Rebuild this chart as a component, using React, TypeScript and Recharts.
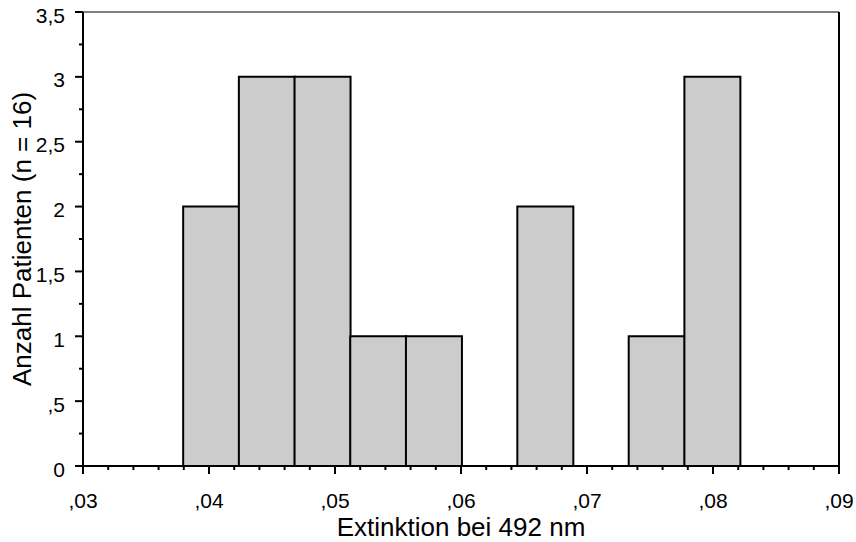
import React from 'react';
import { ComposedChart, Bar, XAxis, YAxis, ReferenceLine } from 'recharts';

// Histogram bins (Extinktion bei 492 nm) and patient counts
const binStarts = [0.03795, 0.04237, 0.04679, 0.05121, 0.05563, 0.06005, 0.06447, 0.06889, 0.07331, 0.07773];
const binEnds = [0.04237, 0.04679, 0.05121, 0.05563, 0.06005, 0.06447, 0.06889, 0.07331, 0.07773, 0.08215];
const patientCounts = [2, 3, 3, 1, 1, 0, 2, 0, 1, 3];

// Axis ticks
const xTickValues = [
  0.03, 0.032, 0.034, 0.036, 0.038, 0.04, 0.042, 0.044, 0.046, 0.048,
  0.05, 0.052, 0.054, 0.056, 0.058, 0.06, 0.062, 0.064, 0.066, 0.068,
  0.07, 0.072, 0.074, 0.076, 0.078, 0.08, 0.082, 0.084, 0.086, 0.088, 0.09,
];
const xMajorValues = [0.03, 0.04, 0.05, 0.06, 0.07, 0.08, 0.09];
const xMajorLabels = [',03', ',04', ',05', ',06', ',07', ',08', ',09'];

const yTickValues = [0, 0.25, 0.5, 0.75, 1, 1.25, 1.5, 1.75, 2, 2.25, 2.5, 2.75, 3, 3.25, 3.5];
const yMajorValues = [0, 0.5, 1, 1.5, 2, 2.5, 3, 3.5];
const yMajorLabels = ['0', ',5', '1', '1,5', '2', '2,5', '3', '3,5'];

const data = binStarts.map((s, i) => ({
  center: (s + binEnds[i]) / 2,
  count: patientCounts[i],
}));

const FONT = '"Liberation Sans", Arial, Helvetica, sans-serif';

function findLabel(values: number[], labels: string[], v: number): string | null {
  const i = values.findIndex((m) => Math.abs(m - v) < 1e-9);
  return i >= 0 ? labels[i] : null;
}

const XTick = (props: any) => {
  const { x, y, payload } = props;
  const label = findLabel(xMajorValues, xMajorLabels, payload.value);
  const len = label !== null ? 8 : 4;
  return (
    <g>
      <line x1={x} x2={x} y1={y} y2={y + len} stroke="#000" strokeWidth={2} />
      {label !== null && (
        <text x={x} y={y + 42} textAnchor="middle" fontSize={21} fontFamily={FONT} fill="#000">
          {label}
        </text>
      )}
    </g>
  );
};

const YTick = (props: any) => {
  const { x, y, payload } = props;
  const label = findLabel(yMajorValues, yMajorLabels, payload.value);
  const len = label !== null ? 8 : 4;
  return (
    <g>
      <line x1={x - len} x2={x} y1={y} y2={y} stroke="#000" strokeWidth={2} />
      {label !== null && (
        <text x={x - 18} y={y + 3} dy="0.36em" textAnchor="end" fontSize={21} fontFamily={FONT} fill="#000">
          {label}
        </text>
      )}
    </g>
  );
};

export default function App() {
  return (
    <div style={{ position: 'absolute', left: 0, top: 0, background: '#fff' }}>
      <ComposedChart
        width={856}
        height={542}
        data={data}
        margin={{ top: 12, right: 17, left: 0, bottom: 0 }}
        barCategoryGap={0}
        barGap={0}
      >
        <XAxis
          dataKey="center"
          type="number"
          domain={[0.03, 0.09]}
          ticks={xTickValues}
          interval={0}
          allowDataOverflow
          height={76}
          tickLine={false}
          tickSize={0}
          tickMargin={0}
          tick={(p: any) => <XTick {...p} />}
          axisLine={{ stroke: '#000', strokeWidth: 2 }}
          label={{
            value: 'Extinktion bei 492 nm',
            position: 'insideBottom',
            offset: 6,
            style: { fontSize: 26, fontFamily: FONT, fill: '#000' },
          }}
        />
        <YAxis
          type="number"
          domain={[0, 3.5]}
          ticks={yTickValues}
          interval={0}
          allowDataOverflow
          width={83}
          tickLine={false}
          tickSize={0}
          tickMargin={0}
          tick={(p: any) => <YTick {...p} />}
          axisLine={{ stroke: '#000', strokeWidth: 2 }}
          label={{
            value: 'Anzahl Patienten (n = 16)',
            angle: -90,
            position: 'insideLeft',
            offset: 21.5,
            style: { textAnchor: 'middle', fontSize: 26, fontFamily: FONT, fill: '#000' },
          }}
        />
        <ReferenceLine y={3.5} stroke="#000" strokeWidth={1} />
        <ReferenceLine x={0.09} stroke="#000" strokeWidth={2} />
        <Bar dataKey="count" fill="#cccccc" stroke="#000" strokeWidth={2} isAnimationActive={false} />
      </ComposedChart>
    </div>
  );
}
